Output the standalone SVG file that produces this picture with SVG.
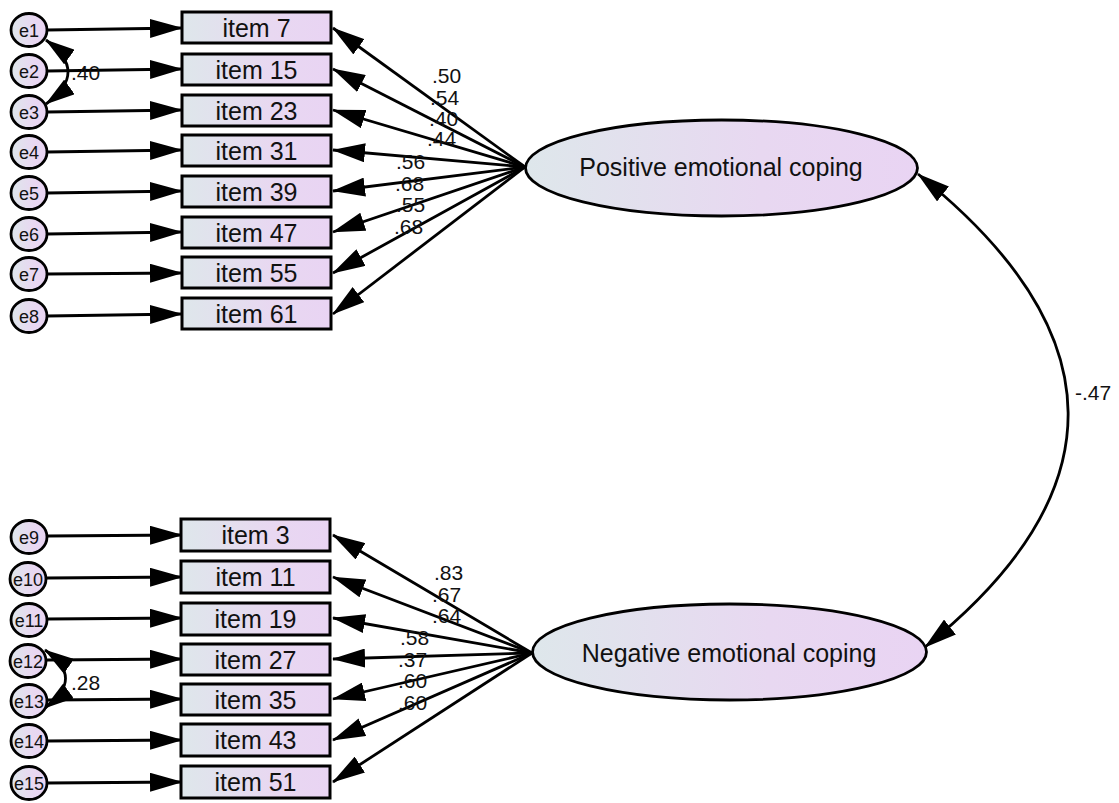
<svg xmlns="http://www.w3.org/2000/svg" width="1119" height="803" viewBox="0 0 1119 803">
<defs>
<linearGradient id="g" x1="0" y1="0" x2="1" y2="0">
<stop offset="0" stop-color="#dee7eb"/>
<stop offset="0.6" stop-color="#e8d8f1"/>
<stop offset="1" stop-color="#e9d4f3"/>
</linearGradient>
<marker id="ah" markerUnits="userSpaceOnUse" markerWidth="33" markerHeight="19" refX="32" refY="9.5" orient="auto-start-reverse" viewBox="0 0 33 19">
<path d="M0,0 L33,9.5 L0,19 z" fill="#000"/>
</marker>
<marker id="ahs" markerUnits="userSpaceOnUse" markerWidth="30" markerHeight="18" refX="29" refY="9" orient="auto-start-reverse" viewBox="0 0 30 18">
<path d="M0,0 L30,9 L0,18 z" fill="#000"/>
</marker>
</defs>
<style>
.box{fill:url(#g);stroke:#000;stroke-width:3}
.err{fill:url(#g);stroke:#000;stroke-width:2.8}
.lat{fill:url(#g);stroke:#000;stroke-width:2.8}
.t{font-family:"Liberation Sans",Arial,sans-serif;fill:#111}
.bt{font-size:25px;text-anchor:middle}
.et{font-size:18px;text-anchor:middle}
.lt{font-size:25px;text-anchor:middle}
.nl{font-size:21px}
.ln{stroke:#000;stroke-width:2.8;fill:none;marker-end:url(#ah)}
.cv{stroke:#000;stroke-width:2.8;fill:none;marker-start:url(#ahs);marker-end:url(#ahs)}
.cvb{stroke:#000;stroke-width:2.8;fill:none;marker-start:url(#ah);marker-end:url(#ah)}
</style>

<g id="connectors">
<line class="ln" x1="47" y1="30" x2="182" y2="28"/>
<line class="ln" x1="47" y1="71" x2="182" y2="69"/>
<line class="ln" x1="47" y1="112" x2="182" y2="110"/>
<line class="ln" x1="47" y1="152" x2="182" y2="150"/>
<line class="ln" x1="47" y1="193" x2="182" y2="191"/>
<line class="ln" x1="47" y1="234" x2="182" y2="232"/>
<line class="ln" x1="47" y1="274" x2="182" y2="273"/>
<line class="ln" x1="47" y1="316" x2="182" y2="314"/>
<line class="ln" x1="47" y1="536" x2="182" y2="535"/>
<line class="ln" x1="47" y1="578" x2="182" y2="577"/>
<line class="ln" x1="47" y1="619" x2="182" y2="618"/>
<line class="ln" x1="47" y1="660" x2="182" y2="659"/>
<line class="ln" x1="47" y1="700" x2="182" y2="699"/>
<line class="ln" x1="47" y1="741" x2="182" y2="740"/>
<line class="ln" x1="47" y1="783" x2="182" y2="782"/>
<line class="ln" x1="525" y1="167" x2="333" y2="28"/>
<line class="ln" x1="525" y1="167" x2="333" y2="69"/>
<line class="ln" x1="525" y1="167" x2="333" y2="110"/>
<line class="ln" x1="525" y1="167" x2="333" y2="150"/>
<line class="ln" x1="525" y1="167" x2="333" y2="191"/>
<line class="ln" x1="525" y1="167" x2="333" y2="232"/>
<line class="ln" x1="525" y1="167" x2="333" y2="273"/>
<line class="ln" x1="525" y1="167" x2="333" y2="314"/>
<line class="ln" x1="532" y1="653" x2="333" y2="535"/>
<line class="ln" x1="532" y1="653" x2="333" y2="577"/>
<line class="ln" x1="532" y1="653" x2="333" y2="618"/>
<line class="ln" x1="532" y1="653" x2="333" y2="659"/>
<line class="ln" x1="532" y1="653" x2="333" y2="699"/>
<line class="ln" x1="532" y1="653" x2="333" y2="740"/>
<line class="ln" x1="532" y1="653" x2="333" y2="782"/>
<path class="cv" d="M46,40 Q90,72 46,104"/>
<path class="cv" d="M45,650 Q86,678 45,708"/>
<path class="cvb" d="M918,174 C1117,333 1117,493 925,647"/>
</g>

<g id="labels" class="t nl">
<text x="432" y="83">.50</text>
<text x="430" y="105">.54</text>
<text x="429" y="126">.40</text>
<text x="427" y="146">.44</text>
<text x="396" y="169">.56</text>
<text x="395" y="191">.68</text>
<text x="396" y="212">.55</text>
<text x="394" y="234">.68</text>
<text x="434" y="580">.83</text>
<text x="432" y="602">.67</text>
<text x="432" y="623">.64</text>
<text x="400" y="645">.58</text>
<text x="398" y="667">.37</text>
<text x="398" y="688">.60</text>
<text x="398" y="710">.60</text>
<text x="71" y="80">.40</text>
<text x="71" y="690">.28</text>
<text x="1075" y="400">-.47</text>
</g>

<g id="pos"><ellipse class="lat" cx="721.5" cy="168" rx="196" ry="48"/><text class="t lt" x="721" y="176">Positive emotional coping</text></g>
<g id="neg"><ellipse class="lat" cx="729.5" cy="652" rx="197" ry="48"/><text class="t lt" x="729" y="662">Negative emotional coping</text></g>

<g id="item7"><rect class="box" x="182" y="12" width="149" height="31"/><text class="t bt" x="256.5" y="36.5">item 7</text></g>
<g id="item15"><rect class="box" x="182" y="54" width="149" height="31"/><text class="t bt" x="256.5" y="78.5">item 15</text></g>
<g id="item23"><rect class="box" x="182" y="95" width="149" height="31"/><text class="t bt" x="256.5" y="119.5">item 23</text></g>
<g id="item31"><rect class="box" x="182" y="135" width="149" height="31"/><text class="t bt" x="256.5" y="159.5">item 31</text></g>
<g id="item39"><rect class="box" x="182" y="176" width="149" height="31"/><text class="t bt" x="256.5" y="200.5">item 39</text></g>
<g id="item47"><rect class="box" x="182" y="217" width="149" height="31"/><text class="t bt" x="256.5" y="241.5">item 47</text></g>
<g id="item55"><rect class="box" x="182" y="257" width="149" height="31"/><text class="t bt" x="256.5" y="281.5">item 55</text></g>
<g id="item61"><rect class="box" x="182" y="298" width="149" height="31"/><text class="t bt" x="256.5" y="322.5">item 61</text></g>

<g id="item3"><rect class="box" x="181" y="519" width="149" height="32"/><text class="t bt" x="255.5" y="544">item 3</text></g>
<g id="item11"><rect class="box" x="181" y="561" width="149" height="32"/><text class="t bt" x="255.5" y="586">item 11</text></g>
<g id="item19"><rect class="box" x="181" y="603" width="149" height="32"/><text class="t bt" x="255.5" y="628">item 19</text></g>
<g id="item27"><rect class="box" x="181" y="644" width="149" height="31"/><text class="t bt" x="255.5" y="668.5">item 27</text></g>
<g id="item35"><rect class="box" x="181" y="684" width="149" height="31"/><text class="t bt" x="255.5" y="708.5">item 35</text></g>
<g id="item43"><rect class="box" x="181" y="724" width="149" height="32"/><text class="t bt" x="255.5" y="749">item 43</text></g>
<g id="item51"><rect class="box" x="181" y="766" width="149" height="32"/><text class="t bt" x="255.5" y="791">item 51</text></g>

<g id="e1"><ellipse class="err" cx="29" cy="30" rx="18" ry="16.5"/><text class="t et" x="29" y="36.5">e1</text></g>
<g id="e2"><ellipse class="err" cx="29" cy="71" rx="18" ry="16.5"/><text class="t et" x="29" y="77.5">e2</text></g>
<g id="e3"><ellipse class="err" cx="29" cy="112" rx="18" ry="16.5"/><text class="t et" x="29" y="118.5">e3</text></g>
<g id="e4"><ellipse class="err" cx="29" cy="152" rx="18" ry="16.5"/><text class="t et" x="29" y="158.5">e4</text></g>
<g id="e5"><ellipse class="err" cx="29" cy="193" rx="18" ry="16.5"/><text class="t et" x="29" y="199.5">e5</text></g>
<g id="e6"><ellipse class="err" cx="29" cy="234" rx="18" ry="16.5"/><text class="t et" x="29" y="240.5">e6</text></g>
<g id="e7"><ellipse class="err" cx="29" cy="274" rx="18" ry="16.5"/><text class="t et" x="29" y="280.5">e7</text></g>
<g id="e8"><ellipse class="err" cx="29" cy="316" rx="18" ry="16.5"/><text class="t et" x="29" y="322.5">e8</text></g>
<g id="e9"><ellipse class="err" cx="29" cy="537" rx="18" ry="16.5"/><text class="t et" x="29" y="543.5">e9</text></g>
<g id="e10"><ellipse class="err" cx="28" cy="579" rx="18" ry="16.5"/><text class="t et" x="28" y="585.5">e10</text></g>
<g id="e11"><ellipse class="err" cx="29" cy="620" rx="18" ry="16.5"/><text class="t et" x="29" y="626.5">e11</text></g>
<g id="e12"><ellipse class="err" cx="28" cy="661" rx="18" ry="16.5"/><text class="t et" x="28" y="667.5">e12</text></g>
<g id="e13"><ellipse class="err" cx="29" cy="701" rx="18" ry="16.5"/><text class="t et" x="29" y="707.5">e13</text></g>
<g id="e14"><ellipse class="err" cx="29" cy="741" rx="18" ry="16.5"/><text class="t et" x="29" y="747.5">e14</text></g>
<g id="e15"><ellipse class="err" cx="29" cy="783" rx="18" ry="16.5"/><text class="t et" x="29" y="789.5">e15</text></g>
</svg>
